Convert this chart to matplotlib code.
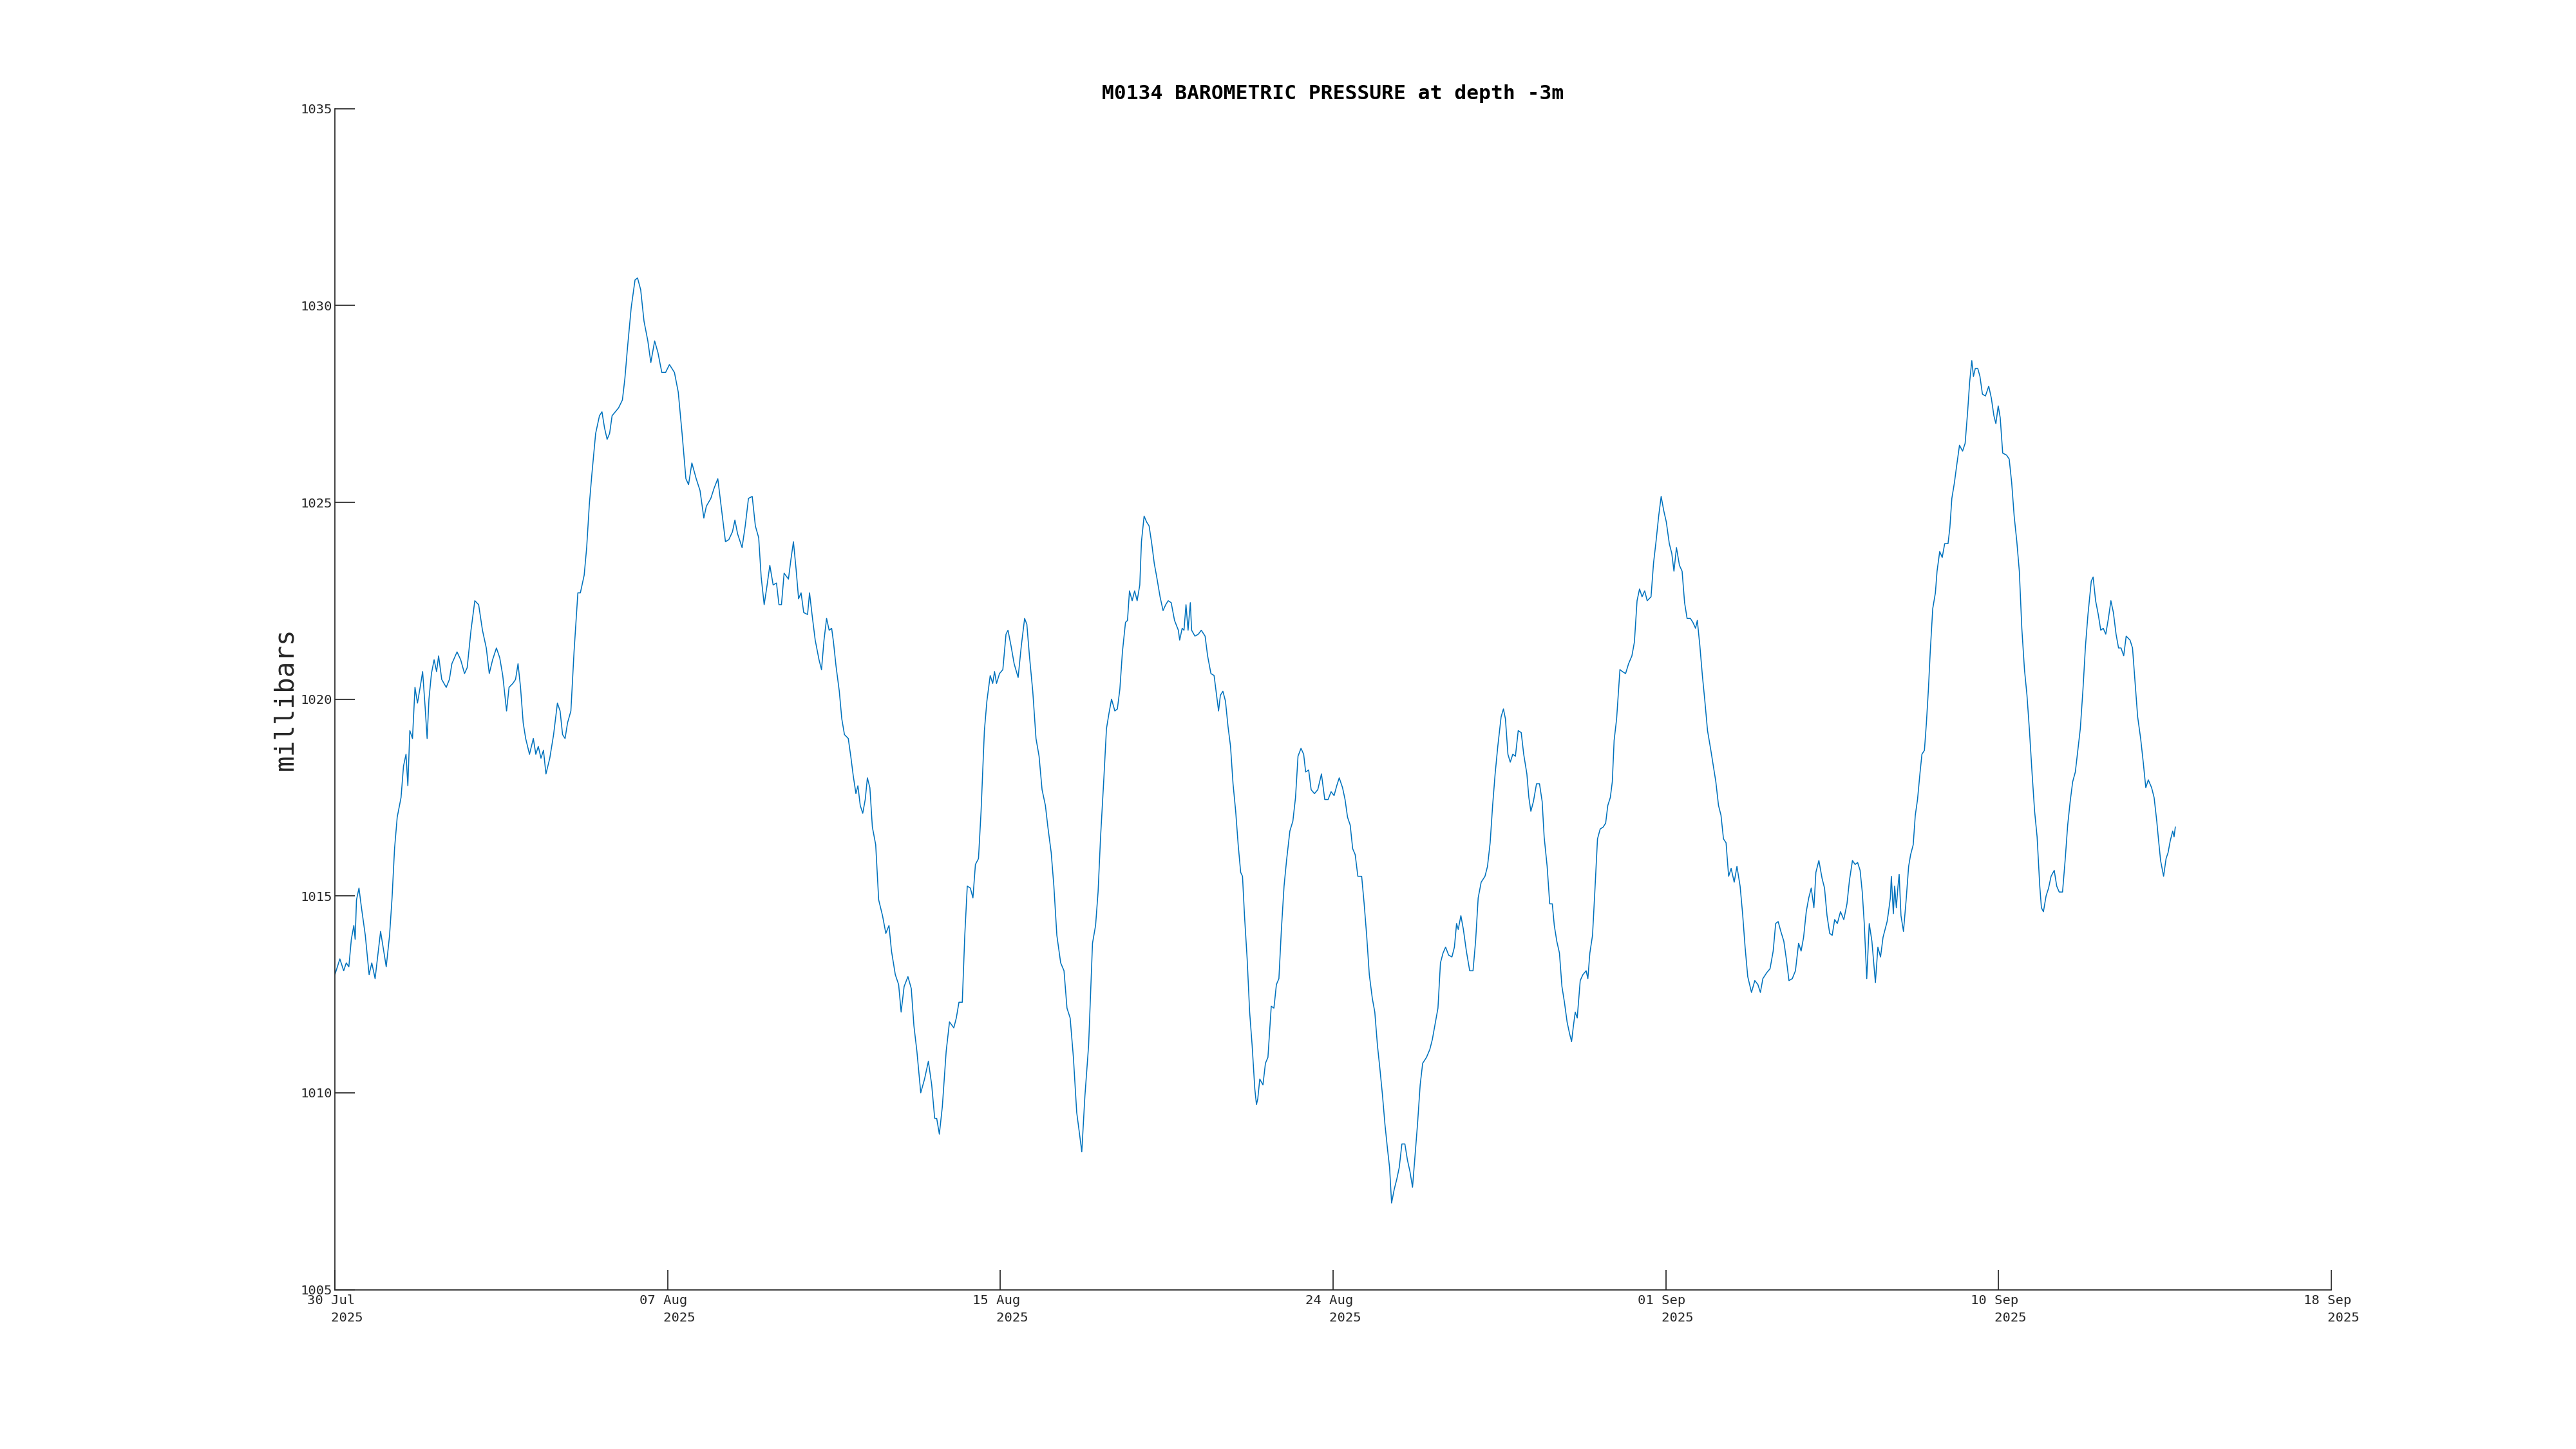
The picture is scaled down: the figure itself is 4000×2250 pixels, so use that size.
"""M0134 barometric pressure, 30 Jul - 14 Sep 2025, MATLAB-style figure."""

import numpy as np
import pandas as pd
import matplotlib

matplotlib.use("Agg")
import matplotlib.pyplot as plt
import matplotlib.dates as mdates

TITLE = "M0134 BAROMETRIC PRESSURE at depth -3m"
YLABEL = "millibars"
LINE_COLOR = "#0072BD"
AX_COLOR = "#262626"

# time axis: hours after the first sample
T0 = pd.Timestamp("2025-07-30 07:12")
XSPAN_DAYS = 50.05

hours = [
    # 30 Jul - 07 Aug
    0.0, 3.0, 5.3, 6.85, 8.4, 9.9, 11.4, 12.2, 13.0, 14.5, 16.0, 18.3, 20.6, 22.2,
    24.2, 27.5, 29.4, 30.9, 32.9, 34.4, 35.9, 37.5, 39.8, 41.3, 42.8, 43.9, 45.1,
    46.7, 48.2, 49.7, 51.3, 52.8, 54.3, 55.5, 56.6, 58.1, 59.7, 61.2, 62.4, 64.3,
    67.0, 68.9, 70.4, 73.5, 75.7, 78.0, 79.6, 81.9, 84.2, 86.5, 88.8, 91.1, 92.9,
    94.9, 97.2, 99.2, 101.0, 103.3, 104.8, 107.1, 108.7, 110.2, 111.7, 113.3,
    114.8, 117.1, 119.4, 120.9, 122.4, 124.0, 125.5, 127.0, 129.3, 131.6, 133.9,
    135.5, 137.0, 138.5, 140.0, 142.0, 143.9, 146.2, 147.7, 150.0, 151.5, 153.1,
    154.6, 156.9, 159.2, 160.7, 162.2, 163.8, 165.3, 166.8, 170.7, 173.0, 174.5,
    176.0, 178.3, 180.6, 182.1, 184.0, 186.0, 188.3, 190.1, 192.4, 194.4, 196.7,
    199.0, 201.3, 204.3, 206.6, 208.9, 211.2, 212.8, 214.8, 217.4, 219.7, 222.0,
    223.5, 226.2, 228.1, 230.4, 232.7, 235.0, 237.0,
    # 07 Aug - 17 Aug
    239.2, 240.7, 242.3, 245.0, 246.9, 248.85, 251.1, 253.0, 255.0, 256.5, 258.3,
    259.9, 261.7, 263.7, 265.7, 267.2, 268.7, 270.3, 272.9, 274.4, 275.9, 277.5,
    279.0, 280.5, 282.1, 284.4, 285.6, 287.1, 289.0, 291.3, 292.8, 294.3, 295.85,
    297.4, 298.9, 300.0, 301.5, 303.5, 305.0, 306.6, 308.9, 310.4, 311.9, 313.5,
    314.7, 316.1, 317.6, 319.1, 320.4, 321.9, 323.4, 325.4, 327.2, 329.5, 331.5,
    333.4, 334.9, 337.2, 339.2, 340.7, 342.5, 344.8, 346.8, 348.4, 350.2, 352.5,
    354.8, 357.1, 359.1, 360.9, 362.1, 363.7, 365.5, 367.8, 369.8, 372.4, 373.9,
    375.5, 377.5, 379.0, 380.5, 382.35, 383.9, 385.4, 387.25, 388.8, 390.8, 392.3,
    394.3, 395.8, 396.9, 398.1, 399.9, 401.9, 403.8, 405.0, 406.85, 408.7, 411.1,
    413.0, 415.0, 416.35, 417.9, 419.9, 421.85, 423.7, 425.5, 427.5, 429.0, 431.0,
    432.6, 434.4, 436.7, 438.7, 440.5, 442.4, 444.35, 446.35, 447.9, 449.4, 451.25,
    453.5, 455.85, 457.7, 459.2, 460.7, 462.7, 464.25, 465.8, 467.3, 469.3,
    # 17 Aug - 27 Aug
    470.8, 472.3, 473.85, 475.7, 476.9, 478.1, 479.7, 481.2, 482.7, 484.3, 485.3,
    486.9, 488.4, 489.9, 491.5, 493.0, 494.5, 496.5, 498.3, 499.9, 501.4, 503.2,
    505.2, 507.5, 508.3, 509.8, 510.9, 512.1, 513.35, 514.7, 515.5, 517.5, 519.5,
    521.3, 523.6, 525.1, 527.1, 529.0, 530.5, 531.7, 532.8, 534.3, 535.85, 537.4,
    538.9, 540.4, 542.0, 543.5, 545.0, 546.1, 547.3, 548.9, 550.4, 551.9, 553.5,
    554.5, 555.3, 556.5, 558.4, 559.9, 561.4, 563.4, 565.0, 566.5, 568.0, 569.5,
    571.1, 572.6, 574.6, 576.4, 578.0, 579.5, 581.3, 582.9, 584.1, 585.9, 587.4,
    589.4, 591.4, 593.6, 595.6, 597.6, 599.4, 601.2, 602.8, 604.3, 606.3, 607.8,
    609.3, 610.9, 612.4, 613.9, 615.5, 617.8, 619.3, 620.8, 622.4, 624.2, 625.7,
    627.3, 628.8, 630.3, 631.8, 633.4, 634.6, 635.8, 637.4, 638.9, 640.4, 642.0,
    643.8, 645.3, 646.85, 648.4, 649.9, 651.4, 653.0, 654.5, 656.8, 658.8, 660.3,
    662.2, 663.7, 665.2, 666.75, 668.3, 670.1, 672.1, 673.6, 674.9, 675.9, 677.5,
    679.0, 680.8, 682.8, 684.8, 686.35, 687.9, 689.7, 692.0, 693.5, 695.1, 696.6,
    698.1, 699.7, 701.7,
    # 27 Aug - 07 Sep
    703.1, 704.3, 705.8, 707.2, 708.75, 710.3, 712.0, 713.8, 715.3, 717.2, 718.4,
    719.6, 721.15, 723.0, 724.8, 726.4, 727.6, 729.4, 730.95, 732.5, 733.7, 735.2,
    736.8, 738.3, 739.8, 741.4, 742.9, 744.1, 745.2, 746.3, 747.5, 749.3, 750.9,
    752.85, 753.9, 755.1, 756.7, 758.2, 759.7, 761.3, 763.1, 764.6, 765.9, 767.4,
    768.6, 769.7, 771.2, 773.2, 774.7, 776.6, 778.4, 780.4, 781.9, 783.5, 785.0,
    786.5, 788.1, 789.6, 791.9, 793.4, 794.9, 796.5, 798.0, 799.5, 801.1, 802.9,
    804.4, 805.7, 807.2, 809.0, 810.6, 812.1, 813.6, 815.6, 817.1, 818.7, 819.75,
    821.3, 822.8, 824.3, 825.9, 827.9, 829.4, 830.9, 832.5, 834.0, 835.5, 837.05,
    838.6, 840.1, 841.95, 843.6, 845.5, 847.0, 848.5, 850.1, 852.35, 854.35, 856.2,
    857.7, 859.2, 861.5, 863.5, 865.4, 866.9, 868.4, 870.0, 871.8, 873.3, 874.9,
    876.9, 878.8, 880.7, 882.2, 883.7, 885.3, 886.8, 888.3, 889.9, 891.1, 892.9,
    894.8, 896.3, 897.8, 899.4, 900.9, 902.4, 904.0, 905.9, 907.9, 909.8, 911.3,
    913.1, 914.7, 916.2, 917.7, 919.0, 920.2, 921.7, 923.2, 924.8, 926.9, 928.4,
    930.0, 931.5, 933.95,
    # 07 Sep - 14 Sep
    934.65, 935.9, 936.5, 937.7, 938.5, 939.5, 940.5, 941.2, 942.3, 943.8, 945.4,
    946.9, 948.1, 949.65, 950.9, 952.25, 953.8, 954.9, 956.4, 957.6, 958.8, 959.9,
    961.4, 963.0, 964.0, 965.6, 967.1, 968.6, 970.6, 971.7, 972.9, 974.45, 975.7,
    977.5, 979.35, 980.9, 982.4, 983.6, 984.9, 985.9, 987.0, 988.5, 989.8, 991.3,
    993.1, 995.1, 996.65, 998.2, 999.4, 1000.8, 1002.0, 1003.5, 1005.8, 1007.4,
    1008.9, 1010.4, 1012.0, 1013.5, 1015.0, 1016.6, 1018.1, 1019.6, 1021.2, 1022.7,
    1024.2, 1025.8, 1026.8, 1028.0, 1029.6, 1031.1, 1032.6, 1034.5, 1036.0, 1037.5,
    1039.5, 1041.05, 1042.6, 1044.1, 1045.6, 1047.2, 1048.7, 1050.2, 1051.8,
    1053.3, 1054.8, 1056.8, 1057.9, 1059.4, 1061.0, 1062.5, 1064.0, 1065.5, 1067.1,
    1068.6, 1070.1, 1071.7, 1073.2, 1074.7, 1076.3, 1077.8, 1080.1, 1081.6, 1083.2,
    1084.7, 1086.5, 1088.05, 1089.6, 1091.1, 1093.1, 1094.6, 1096.2, 1097.2,
    1098.5, 1100.3, 1101.8, 1103.0, 1104.3, 1105.8, 1106.6, 1107.35,
]

mbar = [
    # 30 Jul - 07 Aug
    1013.0, 1013.4, 1013.1, 1013.3, 1013.2, 1013.9, 1014.25, 1013.9, 1014.9, 1015.2,
    1014.7, 1014.0, 1013.0, 1013.3, 1012.9, 1014.1, 1013.6, 1013.2, 1014.0, 1014.95,
    1016.2, 1017.0, 1017.5, 1018.3, 1018.6, 1017.8, 1019.2, 1019.0, 1020.3, 1019.9,
    1020.3, 1020.7, 1019.8, 1019.0, 1020.0, 1020.65, 1021.0, 1020.7, 1021.1, 1020.5,
    1020.3, 1020.5, 1020.9, 1021.2, 1021.0, 1020.65, 1020.8, 1021.75, 1022.5, 1022.4,
    1021.75, 1021.3, 1020.65, 1021.0, 1021.3, 1021.05, 1020.6, 1019.7, 1020.3, 1020.4,
    1020.5, 1020.9, 1020.3, 1019.4, 1019.0, 1018.6, 1019.0, 1018.6, 1018.8, 1018.5,
    1018.7, 1018.1, 1018.5, 1019.1, 1019.9, 1019.7, 1019.1, 1019.0, 1019.4, 1019.7,
    1021.2, 1022.7, 1022.7, 1023.15, 1023.85, 1024.95, 1025.7, 1026.75, 1027.2, 1027.3,
    1026.9, 1026.6, 1026.75, 1027.2, 1027.4, 1027.6, 1028.15, 1028.9, 1029.95, 1030.65,
    1030.7, 1030.4, 1029.6, 1029.1, 1028.55, 1029.1, 1028.8, 1028.3, 1028.3, 1028.5,
    1028.3, 1027.8, 1026.75, 1025.6, 1025.45, 1026.0, 1025.6, 1025.3, 1024.6, 1024.9,
    1025.1, 1025.35, 1025.6, 1024.8, 1024.0, 1024.05,
    # 07 Aug - 17 Aug
    1024.25, 1024.55, 1024.2, 1023.85, 1024.4, 1025.1, 1025.15, 1024.4, 1024.1, 1023.1,
    1022.4, 1022.85, 1023.4, 1022.9, 1022.95, 1022.4, 1022.4, 1023.2, 1023.05, 1023.55,
    1024.0, 1023.3, 1022.55, 1022.7, 1022.2, 1022.15, 1022.7, 1022.15, 1021.5, 1021.0,
    1020.75, 1021.5, 1022.05, 1021.75, 1021.8, 1021.45, 1020.85, 1020.2, 1019.5, 1019.1,
    1019.0, 1018.55, 1018.05, 1017.6, 1017.8, 1017.3, 1017.1, 1017.45, 1018.0, 1017.75,
    1016.75, 1016.3, 1014.9, 1014.5, 1014.05, 1014.25, 1013.6, 1013.0, 1012.75, 1012.05,
    1012.7, 1012.95, 1012.65, 1011.7, 1011.05, 1010.0, 1010.35, 1010.8, 1010.2, 1009.35,
    1009.35, 1008.95, 1009.65, 1011.05, 1011.8, 1011.65, 1011.9, 1012.3, 1012.3, 1014.0,
    1015.25, 1015.2, 1014.95, 1015.8, 1015.95, 1017.15, 1019.2, 1019.95, 1020.6, 1020.4,
    1020.7, 1020.4, 1020.65, 1020.75, 1021.65, 1021.75, 1021.35, 1020.9, 1020.55, 1021.35,
    1022.05, 1021.9, 1021.1, 1020.2, 1019.0, 1018.55, 1017.7, 1017.3, 1016.75, 1016.1,
    1015.25, 1014.0, 1013.3, 1013.1, 1012.15, 1011.9, 1010.9, 1009.5, 1009.0, 1008.5,
    1009.9, 1011.2, 1013.8, 1014.25, 1015.1, 1016.5, 1018.0, 1019.25, 1019.65, 1020.0,
    1019.7,
    # 17 Aug - 27 Aug
    1019.75, 1020.25, 1021.2, 1021.95, 1022.0, 1022.75, 1022.5, 1022.75, 1022.5, 1022.9,
    1024.0, 1024.65, 1024.5, 1024.4, 1023.95, 1023.45, 1023.1, 1022.6, 1022.25, 1022.4,
    1022.5, 1022.45, 1022.0, 1021.75, 1021.5, 1021.8, 1021.75, 1022.4, 1021.75, 1022.45,
    1021.75, 1021.6, 1021.65, 1021.75, 1021.6, 1021.1, 1020.65, 1020.6, 1020.1, 1019.7,
    1020.1, 1020.2, 1019.95, 1019.3, 1018.8, 1017.85, 1017.15, 1016.3, 1015.6, 1015.5,
    1014.5, 1013.4, 1012.05, 1011.2, 1010.1, 1009.7, 1009.85, 1010.35, 1010.2, 1010.75,
    1010.9, 1012.2, 1012.15, 1012.75, 1012.9, 1014.15, 1015.25, 1015.9, 1016.65, 1016.9,
    1017.5, 1018.55, 1018.75, 1018.6, 1018.15, 1018.2, 1017.7, 1017.6, 1017.7, 1018.1,
    1017.45, 1017.45, 1017.65, 1017.55, 1017.8, 1018.0, 1017.75, 1017.45, 1017.0, 1016.8,
    1016.2, 1016.05, 1015.5, 1015.5, 1014.8, 1014.0, 1013.0, 1012.4, 1012.05, 1011.2,
    1010.6, 1009.95, 1009.2, 1008.55, 1008.1, 1007.2, 1007.55, 1007.8, 1008.1, 1008.7,
    1008.7, 1008.3, 1008.0, 1007.6, 1008.4, 1009.2, 1010.2, 1010.75, 1010.9, 1011.1,
    1011.35, 1011.8, 1012.15, 1013.3, 1013.55, 1013.7, 1013.5, 1013.45, 1013.7, 1014.3,
    1014.15, 1014.5, 1014.15, 1013.6, 1013.1, 1013.1, 1013.85, 1014.95, 1015.35, 1015.5,
    1015.75, 1016.35, 1017.3, 1018.1, 1018.8, 1019.55,
    # 27 Aug - 07 Sep
    1019.75, 1019.5, 1018.6, 1018.4, 1018.6, 1018.55, 1019.2, 1019.15, 1018.6, 1018.1,
    1017.5, 1017.15, 1017.4, 1017.85, 1017.85, 1017.4, 1016.5, 1015.75, 1014.8, 1014.8,
    1014.25, 1013.85, 1013.55, 1012.7, 1012.3, 1011.8, 1011.5, 1011.3, 1011.7, 1012.05,
    1011.9, 1012.85, 1013.0, 1013.1, 1012.9, 1013.55, 1014.0, 1015.2, 1016.45, 1016.7,
    1016.75, 1016.85, 1017.3, 1017.5, 1017.9, 1018.95, 1019.5, 1020.75, 1020.7, 1020.65,
    1020.9, 1021.1, 1021.45, 1022.5, 1022.8, 1022.6, 1022.75, 1022.5, 1022.6, 1023.45,
    1024.0, 1024.65, 1025.15, 1024.8, 1024.5, 1023.95, 1023.7, 1023.25, 1023.85, 1023.4,
    1023.25, 1022.45, 1022.05, 1022.05, 1021.95, 1021.8, 1022.0, 1021.35, 1020.6, 1019.95,
    1019.2, 1018.7, 1018.3, 1017.9, 1017.3, 1017.05, 1016.45, 1016.35, 1015.5, 1015.7,
    1015.35, 1015.75, 1015.25, 1014.55, 1013.7, 1012.95, 1012.55, 1012.85, 1012.75, 1012.55,
    1012.9, 1013.05, 1013.15, 1013.6, 1014.3, 1014.35, 1014.1, 1013.85, 1013.4, 1012.85,
    1012.9, 1013.1, 1013.8, 1013.6, 1013.95, 1014.6, 1014.95, 1015.2, 1014.7, 1015.6,
    1015.9, 1015.45, 1015.2, 1014.5, 1014.05, 1014.0, 1014.4, 1014.3, 1014.6, 1014.4,
    1014.8, 1015.4, 1015.9, 1015.8, 1015.85, 1015.65, 1015.1, 1014.3, 1012.9, 1014.3,
    1013.85, 1012.8, 1013.7, 1013.45, 1013.95, 1014.35,
    # 07 Sep - 14 Sep
    1014.55, 1014.95, 1015.5, 1014.55, 1015.25, 1014.7, 1015.25, 1015.55, 1014.5, 1014.1,
    1014.9, 1015.75, 1016.05, 1016.3, 1017.05, 1017.45, 1018.15, 1018.6, 1018.7, 1019.4,
    1020.25, 1021.2, 1022.3, 1022.7, 1023.25, 1023.75, 1023.6, 1023.95, 1023.95, 1024.35,
    1025.1, 1025.5, 1025.9, 1026.45, 1026.3, 1026.5, 1027.3, 1028.05, 1028.6, 1028.2,
    1028.4, 1028.4, 1028.2, 1027.75, 1027.7, 1027.95, 1027.65, 1027.2, 1027.0, 1027.45,
    1027.15, 1026.25, 1026.2, 1026.1, 1025.5, 1024.65, 1024.0, 1023.25, 1021.8, 1020.75,
    1020.1, 1019.2, 1018.1, 1017.15, 1016.5, 1015.25, 1014.7, 1014.6, 1015.0, 1015.2,
    1015.5, 1015.65, 1015.25, 1015.1, 1015.1, 1015.9, 1016.8, 1017.4, 1017.9, 1018.15,
    1018.7, 1019.25, 1020.25, 1021.35, 1022.15, 1023.0, 1023.1, 1022.5, 1022.15, 1021.75,
    1021.8, 1021.65, 1022.05, 1022.5, 1022.2, 1021.65, 1021.3, 1021.3, 1021.1, 1021.6,
    1021.5, 1021.3, 1020.4, 1019.55, 1019.0, 1018.4, 1017.75, 1017.95, 1017.75, 1017.5,
    1016.9, 1016.45, 1015.9, 1015.5, 1015.95, 1016.1, 1016.4, 1016.65, 1016.5, 1016.75,
]

XTICK_LABELS = ["30 Jul", "07 Aug", "15 Aug", "24 Aug", "01 Sep", "10 Sep", "18 Sep"]
YEAR = "2025"
YTICKS = [1005, 1010, 1015, 1020, 1025, 1030, 1035]


def main():
    plt.rcParams["font.family"] = ["DejaVu Sans Mono"]
    t = T0 + pd.to_timedelta(np.asarray(hours), unit="h")
    t_end = T0 + pd.Timedelta(days=XSPAN_DAYS)

    fig = plt.figure(figsize=(16, 9), dpi=250)
    ax = fig.add_axes([0.13, 0.11, 0.775, 0.815])
    ax.plot(t, mbar, color=LINE_COLOR, linewidth=0.45)

    x0, x1 = mdates.date2num(T0), mdates.date2num(t_end)
    ax.set_xlim(x0, x1)
    ax.set_ylim(1005, 1035)
    ax.set_xticks(np.linspace(x0, x1, len(XTICK_LABELS)))
    ax.set_xticklabels([f"{d}\n   {YEAR}" for d in XTICK_LABELS],
                       multialignment="left", linespacing=1.5)
    ax.set_yticks(YTICKS)
    ax.set_yticklabels([str(v) for v in YTICKS])

    for s in ("top", "right"):
        ax.spines[s].set_visible(False)
    for s in ("left", "bottom"):
        ax.spines[s].set_color(AX_COLOR)
        ax.spines[s].set_linewidth(0.5)
    ax.tick_params(direction="in", length=8.9, width=0.5, color=AX_COLOR,
                   labelcolor=AX_COLOR, labelsize=5.9)
    ax.tick_params(axis="x", pad=2.3)
    ax.tick_params(axis="y", pad=1.1)
    ax.minorticks_off()

    ax.set_title(TITLE, fontsize=9, fontweight="bold", color="black", pad=4.3)
    ax.set_ylabel(YLABEL, fontsize=11.8, color=AX_COLOR)
    ax.yaxis.set_label_coords(-0.0184, 0.5)

    fig.savefig("out.png", dpi=250)


if __name__ == "__main__":
    main()
